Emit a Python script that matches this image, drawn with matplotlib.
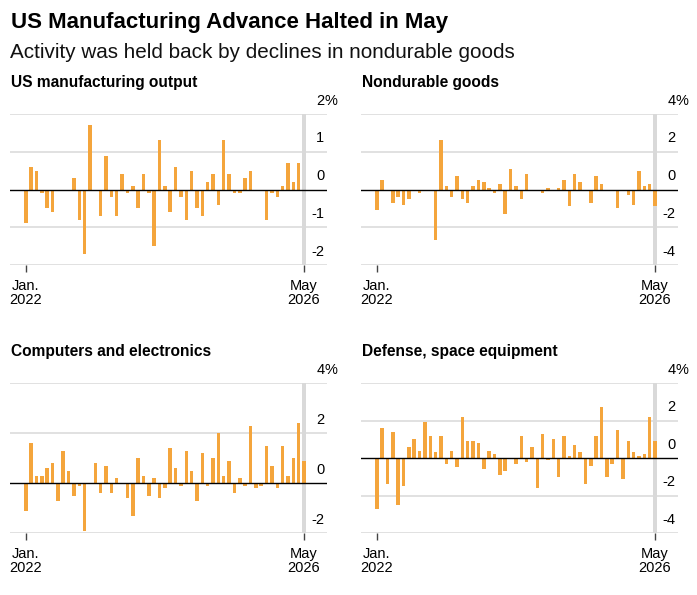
import matplotlib
matplotlib.use("Agg")
import matplotlib.pyplot as plt

plt.rcParams['font.family'] = ['Liberation Sans', 'DejaVu Sans']

W, H = 697, 595

# monthly % change, Jan 2022 .. May 2026
months = list(range(53))
output = [-0.9, 0.6, 0.5, -0.1, -0.5, -0.6, 0.0, 0.0, 0.0, 0.3, -0.8, -1.7, 1.7,
          0.0, -0.7, 0.9, -0.2, -0.7, 0.4, -0.1, 0.1, -0.5, 0.4, -0.1, -1.5, 1.3,
          0.1, -0.6, 0.6, -0.2, -0.8, 0.5, -0.5, -0.7, 0.2, 0.4, -0.4, 1.3, 0.4,
          -0.1, -0.1, 0.3, 0.5, 0.0, 0.0, -0.8, -0.1, -0.2, 0.1, 0.7, 0.2, 0.7, 0.0]
nondurable = [-1.1, 0.5, 0.0, -0.7, -0.4, -0.8, -0.5, -0.1, -0.2, -0.1, -0.1, -2.7, 2.6,
              0.2, -0.4, 0.7, -0.5, -0.7, 0.2, 0.5, 0.4, 0.1, -0.2, 0.3, -1.3, 1.1,
              0.2, -0.5, 0.8, 0.0, -0.1, -0.2, 0.1, -0.1, 0.1, 0.5, -0.9, 0.8, 0.4,
              -0.1, -0.7, 0.7, 0.3, -0.1, -0.1, -1.0, 0.0, -0.3, -0.8, 1.0, 0.2, 0.3, -0.9]
computers = [-1.1, 1.6, 0.3, 0.3, 0.6, 0.8, -0.7, 1.3, 0.5, -0.5, -0.1, -1.9, 0.0,
             0.8, -0.4, 0.7, -0.4, 0.2, 0.0, -0.6, -1.3, 1.0, 0.3, -0.5, 0.2, -0.6,
             -0.2, 1.4, 0.6, -0.1, 1.3, 0.5, -0.7, 1.2, -0.1, 1.0, 2.0, 0.3, 0.9,
             -0.4, 0.2, -0.1, 2.3, -0.2, -0.1, 1.5, 0.7, -0.2, 1.5, 0.3, 1.0, 2.4, 0.9]
defense = [-2.7, 1.6, -1.4, 1.4, -2.5, -1.5, 0.6, 1.0, 0.4, 1.9, 1.2, 0.3, 1.2,
           -0.3, 0.4, -0.5, 2.2, 0.9, 0.9, 0.8, -0.6, 0.4, 0.2, -0.9, -0.7, 0.0,
           -0.3, 1.2, -0.2, 0.6, -1.6, 1.3, -0.1, 1.0, -1.0, 1.2, 0.1, 0.7, 0.3,
           -1.4, -0.4, 1.2, 2.7, -1.0, -0.3, 1.5, -1.1, 0.9, 0.3, 0.1, 0.2, 2.2, 0.9]

panels = [
    ("US manufacturing output", output, (-2, 2), [-2, -1, 0, 1, 2]),
    ("Nondurable goods", nondurable, (-4, 4), [-4, -2, 0, 2, 4]),
    ("Computers and electronics", computers, (-2, 4), [-2, 0, 2, 4]),
    ("Defense, space equipment", defense, (-4, 4), [-4, -2, 0, 2, 4]),
]

# pixel boxes: left, right, top, bottom
boxes = [(10, 327, 114, 265), (361, 678, 114, 265),
         (10, 327, 383, 533), (361, 678, 383, 533)]

BAR = '#f4a53c'
GRID = '#dcdcdc'

fig = plt.figure(figsize=(W / 100, H / 100), dpi=100)

fig.text(11 / W, 1 - 28 / H, "US Manufacturing Advance Halted in May",
         fontsize=16, fontweight='bold', va='baseline', ha='left')
fig.text(10 / W, 1 - 58 / H, "Activity was held back by declines in nondurable goods",
         fontsize=14.9, va='baseline', ha='left', color='#111111')

for (title, vals, ylim, ticks), (l, r, t, b) in zip(panels, boxes):
    ax = fig.add_axes([l / W, 1 - b / H, (r - l) / W, (b - t) / H])
    fig.text((l + 1) / W, 1 - (t - 27) / H, title, fontsize=11.2,
             fontweight='bold', va='baseline', ha='left')
    ax.set_xlim(-2.95, 56.3)
    ax.set_ylim(*ylim)
    for v in ticks:
        if v != 0:
            ax.axhline(v, color=GRID, lw=1.2, zorder=0)
    ax.axvspan(51.6, 52.4, color='#d9d9d9', lw=0, zorder=1)
    ax.bar(months, vals, width=0.65, color=BAR, zorder=3)
    ax.axhline(0, color='black', lw=1, zorder=4)
    for s in ax.spines.values():
        s.set_visible(False)
    ax.set_yticks([])
    ax.set_xticks([0, 52])
    ax.set_xticklabels(["Jan.\n2022", "May\n2026"], fontsize=10.5,
                       linespacing=1.0)
    ax.tick_params(axis='x', length=5, width=1, color='#444444', pad=5)
    for v in ticks:
        ax.annotate(str(v), xy=(55.8, v), xytext=(0, 4.5),
                    textcoords='offset points', ha='right', va='bottom',
                    fontsize=10.5, annotation_clip=False)
        if v == ticks[-1]:
            ax.annotate('%', xy=(55.8, v), xytext=(0, 4.5),
                        textcoords='offset points', ha='left', va='bottom',
                        fontsize=10.5, annotation_clip=False)

fig.savefig("out.png", dpi=100)
